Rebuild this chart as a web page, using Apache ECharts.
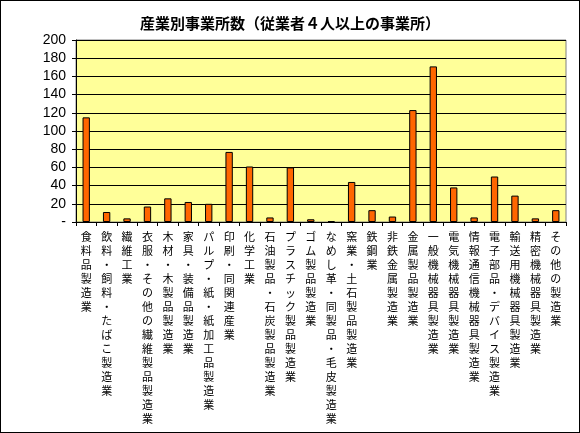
<!DOCTYPE html>
<html lang="ja">
<head>
    <meta charset="UTF-8">
    <title>産業別事業所数</title>
    <style>
        html, body { margin: 0; padding: 0; background: #fff; }
        #chart {
            width: 580px;
            height: 433px;
            box-sizing: border-box;
            border: 1px solid #000;
        }
    </style>
    <script src="https://cdn.jsdelivr.net/npm/echarts@6/dist/echarts.min.js"></script>
</head>
<body>
    <div id="chart"></div>
    <script>
        const categories = [
            "食料品製造業", "飲料・飼料・たばこ製造業", "繊維工業", "衣服・その他の繊維製品製造業",
            "木材・木製品製造業", "家具・装備品製造業", "パルプ・紙・紙加工品製造業", "印刷・同関連産業",
            "化学工業", "石油製品・石炭製品製造業", "プラスチック製品製造業", "ゴム製品製造業",
            "なめし革・同製品・毛皮製造業", "窯業・土石製品製造業", "鉄鋼業", "非鉄金属製造業",
            "金属製品製造業", "一般機械器具製造業", "電気機械器具製造業", "情報通信機械器具製造業",
            "電子部品・デバイス製造業", "輸送用機械器具製造業", "精密機械器具製造業", "その他の製造業"
        ]
        const counts = [115, 11, 4, 17, 26, 22, 20, 77, 61, 5, 60, 3, 1, 44, 13, 6, 123, 171, 38, 5, 50, 29, 4, 13]
        const yTicks = { min: 0, max: 200, step: 20 }

        const chart = echarts.init(document.getElementById("chart"))
        chart.setOption({
            animation: false,
            backgroundColor: "#fff",
            title: {
                text: "産業別事業所数（従業者４人以上の事業所）",
                left: "center",
                top: 10,
                textStyle: { fontFamily: "Noto Sans CJK JP", fontSize: 15, fontWeight: "bold", color: "#000" }
            },
            grid: { left: 75, right: 13, top: 39, bottom: 210, backgroundColor: "#FFFF99", show: true, borderColor: "#808080", borderWidth: 1 },
            xAxis: {
                type: "category",
                data: categories,
                axisLine: { lineStyle: { color: "#000" } },
                axisTick: { show: true, lineStyle: { color: "#000" }, length: 4 },
                axisLabel: {
                    interval: 0,
                    margin: 8,
                    fontFamily: "Noto Sans CJK JP",
                    fontSize: 11,
                    lineHeight: 14,
                    color: "#000",
                    verticalAlign: "top",
                    formatter: v => v.split("").join("\n")
                }
            },
            yAxis: {
                type: "value",
                min: yTicks.min,
                max: yTicks.max,
                interval: yTicks.step,
                axisLine: { show: true, lineStyle: { color: "#000" } },
                axisTick: { show: true, lineStyle: { color: "#000" }, length: 4 },
                splitLine: { lineStyle: { color: "#000", width: 1 } },
                axisLabel: {
                    fontFamily: "Liberation Sans",
                    fontSize: 14,
                    color: "#000",
                    margin: 10,
                    formatter: v => v === 0 ? "-" : String(v)
                }
            },
            series: [{
                type: "bar",
                data: counts,
                barWidth: "36%",
                itemStyle: { color: "#FF6600", borderColor: "#000", borderWidth: 1 }
            }]
        })
    </script>
</body>
</html>
